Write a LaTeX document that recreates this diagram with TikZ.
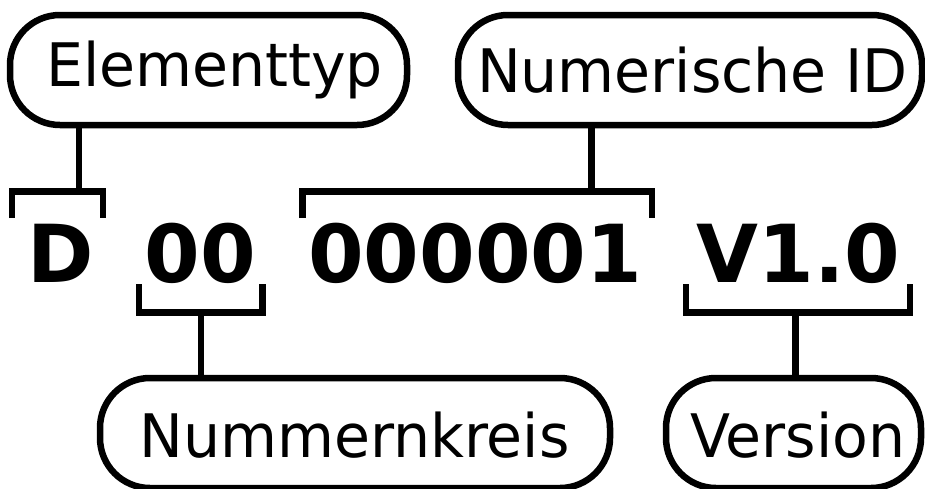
\documentclass[tikz,border=0pt]{standalone}
\usepackage{fontspec}
\setmainfont{DejaVu Sans}
\newcommand{\narrowtxt}[1]{\scalebox{0.975}[1]{#1}}
\begin{document}
\begin{tikzpicture}[x=1pt,y=-1pt,
  pill/.style={draw=black,line width=6.5pt,rounded corners=50pt,inner sep=0pt,outer sep=0pt},
  lbl/.style={inner sep=0pt,outer sep=0pt,anchor=base,font=\fontsize{60}{72}\selectfont},
  code/.style={inner sep=0pt,outer sep=0pt,anchor=base,font=\fontsize{80}{96}\selectfont\bfseries},
  brk/.style={line width=6.5pt,line join=miter,line cap=butt},
  conn/.style={line width=6.5pt,line cap=butt}]
\useasboundingbox (0,0) rectangle (925,488);
% boxes
\node[pill,minimum width=397pt,minimum height=110pt] (e) at (208.5,70) {};
\node[pill,minimum width=464pt,minimum height=110pt] (n) at (690,70) {};
\node[pill,minimum width=510pt,minimum height=110pt] (k) at (355,433) {};
\node[pill,minimum width=255pt,minimum height=110pt] (v) at (793.5,433) {};
% labels
\node[lbl] (te) at (214.5,86) {\narrowtxt{Elementtyp}};
\node[lbl] (tn) at (692.5,92) {\narrowtxt{Numerische ID}};
\node[lbl] (tk) at (354.5,457) {\narrowtxt{Nummernkreis}};
\node[lbl] (tv) at (798,457) {\narrowtxt{Version}};
% code
\node[code] (cD) at (61,282) {D};
\node[code] (c00) at (200.5,282) {00};
\node[code] (cid) at (475,282) {000001};
\node[code] (cv) at (798.5,282) {V1.0};
% bracket coordinates
\coordinate (dl) at (12,218);   \coordinate (dr) at (103,218);  \coordinate (dm) at (79,191.5);
\coordinate (il) at (302.5,218); \coordinate (ir) at (652,218); \coordinate (im) at (591.5,191.5);
\coordinate (kl) at (139,284);  \coordinate (kr) at (262.5,284); \coordinate (km) at (201,312.5);
\coordinate (vl) at (686,284);  \coordinate (vr) at (910,284);  \coordinate (vm) at (795.5,312.5);
% brackets
\draw[brk] (dl) |- (dm) -| (dr);
\draw[brk] (il) |- (im) -| (ir);
\draw[brk] (kl) |- (km) -| (kr);
\draw[brk] (vl) |- (vm) -| (vr);
% connectors
\draw[conn] (e.south -| dm) -- (dm);
\draw[conn] (n.south -| im) -- (im);
\draw[conn] (k.north -| km) -- (km);
\draw[conn] (v.north -| vm) -- (vm);
\end{tikzpicture}
\end{document}
